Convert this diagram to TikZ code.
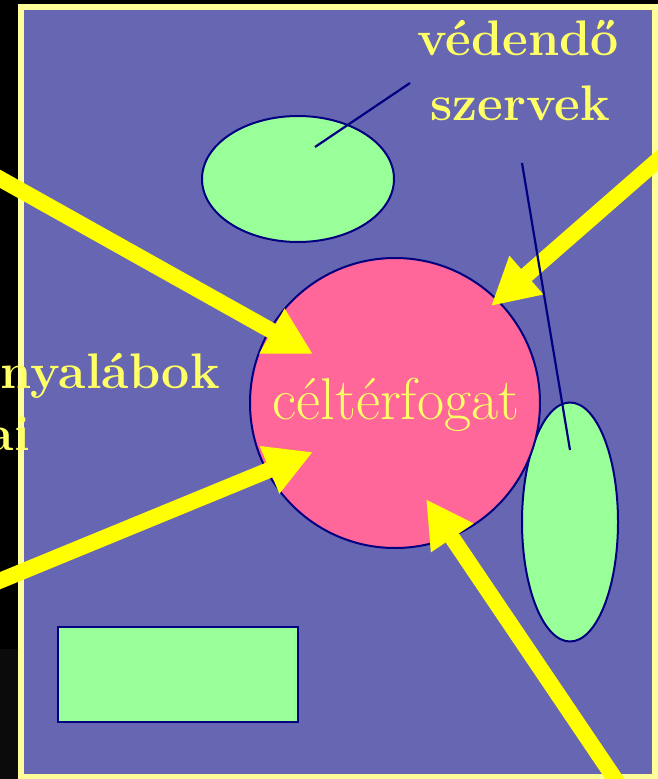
\documentclass[tikz,border=0pt]{standalone}
\usetikzlibrary{arrows.meta,shapes.geometric}
\definecolor{slate}{RGB}{102,102,179}
\definecolor{framey}{RGB}{255,255,153}
\definecolor{texty}{RGB}{255,255,102}
\definecolor{rayy}{RGB}{255,255,0}
\definecolor{organ}{RGB}{153,255,153}
\definecolor{target}{RGB}{255,102,153}
\definecolor{navy}{RGB}{0,0,128}
\definecolor{nearblack}{RGB}{11,11,11}
\tikzset{
  organ/.style={draw=navy, line width=2pt, fill=organ, inner sep=0pt},
  pointer/.style={draw=navy, line width=2.2pt},
  ray/.style={draw=rayy, line width=16pt, -{Triangle[length=47pt,width=48pt]}},
  bigbold/.style={text=texty, font=\fontsize{50}{60}\selectfont\bfseries, inner sep=0pt},
  label/.style={text=texty, font=\fontsize{59}{68}\selectfont, inner sep=0pt}
}
\begin{document}
\begin{tikzpicture}[x=1pt,y=-1pt]
\useasboundingbox (0,0) rectangle (658,779);
% background and framed panel
\fill[black] (0,0) rectangle (658,779);
\fill[nearblack] (0,649) rectangle (18,779);
\fill[slate] (21,7) rectangle (655,777);
\draw[framey, line width=6pt] (21,7) rectangle (655,777);

% organs at risk and target volume
\node[organ, ellipse, minimum width=192pt, minimum height=126pt] (orgA) at (298,179) {};
\node[organ, ellipse, minimum width=96pt, minimum height=239pt] (orgB) at (570,522) {};
\node[organ, rectangle, minimum width=240pt, minimum height=95pt] (orgC) at (178,674.5) {};
\node[draw=navy, line width=2pt, fill=target, circle, minimum size=290pt, inner sep=0pt] (ctv) at (395,403) {};
\node[label, anchor=base] (ctvlabel) at (396,419) {céltérfogat};

% captions
\node[bigbold, anchor=base] (cap1) at (518,55) {védendő};
\node[bigbold, anchor=base] (cap2) at (520,120) {szervek};
\node[bigbold, anchor=base east] (beam1) at (220,388) {nyalábok};
\node[bigbold, anchor=base east] (beam2) at (30,450) {ai};

% beam directions
\coordinate (t1) at (-30,162);  \coordinate (h1) at (313,354);
\coordinate (t2) at (-30,593);  \coordinate (h2) at (313,452);
\coordinate (t3) at (690,132);  \coordinate (h3) at (491,306);
\coordinate (t4) at (636,810);  \coordinate (h4) at (426,499);
\draw[ray] (t1) -- (h1);
\draw[ray] (t2) -- (h2);
\draw[ray] (t3) -- (h3);
\draw[ray] (t4) -- (h4);

% leader lines from the caption to the organs
\coordinate (p1) at (410,83);  \coordinate (q1) at (315,147);
\coordinate (p2) at (522,163); \coordinate (q2) at (570,450);
\draw[pointer] (p1) -- (q1);
\draw[pointer] (p2) -- (q2);
\end{tikzpicture}
\end{document}
